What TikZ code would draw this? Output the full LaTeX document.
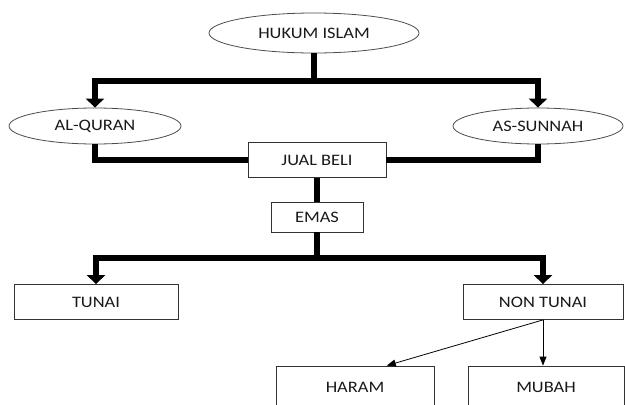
\documentclass[tikz,border=0pt]{standalone}
\usepackage{fontspec}
\setmainfont{Carlito}[FakeStretch=1.15]
\usetikzlibrary{arrows.meta,shapes.geometric,calc}

\begin{document}
\begin{tikzpicture}[x=1pt,y=-1pt,font=\fontsize{16}{18}\selectfont]
  \tikzstyle{oval}=[ellipse,draw=black!70,line width=0.8pt,inner sep=0pt,text=black!90]
  \tikzstyle{box}=[rectangle,draw=black!80,line width=0.8pt,inner sep=0pt,text=black!90]
  \tikzstyle{bigline}=[line width=6pt]
  \tikzstyle{bigarrow}=[line width=6pt,-{Triangle[width=18pt,length=9pt]}]
  \tikzstyle{smallarrow}=[line width=0.8pt,-{Triangle[width=7pt,length=9pt]}]
  \useasboundingbox (0,0) rectangle (625,405);
  \clip (0,0) rectangle (625,405);
  % sources
  \node[oval,minimum width=210pt,minimum height=40pt] (hukum) at (314,33) {HUKUM ISLAM};
  \node[oval,minimum width=172pt,minimum height=36pt] (quran) at (95,126) {AL-QURAN};
  \node[oval,minimum width=170pt,minimum height=36pt] (sunnah) at (538,126) {AS-SUNNAH};
  \node[box,minimum width=138pt,minimum height=35pt] (jual) at (317,160) {JUAL BELI};
  \node[box,minimum width=92pt,minimum height=30pt] (emas) at (317,217) {EMAS};
  % payment
  \node[box,minimum width=164pt,minimum height=35pt] (tunai) at (96,302) {TUNAI};
  \node[box,minimum width=160pt,minimum height=35pt] (nontunai) at (543,302) {NON TUNAI};
  \node[box,minimum width=158pt,minimum height=42pt] (haram) at (355,387) {HARAM};
  \node[box,minimum width=156pt,minimum height=42pt] (mubah) at (546,387) {MUBAH};
  \coordinate (top) at (hukum.south |- 0,81);
  \coordinate (mid) at (emas.south |- 0,258);
  \draw[bigarrow] (hukum.south) -- (top) -| (quran.north);
  \draw[bigarrow] (top) -| (sunnah.north);
  \draw[bigline] (quran.south) |- (jual.west);
  \draw[bigline] (sunnah.south) |- (jual.east);
  \draw[bigline] (jual.south) -- (emas.north);
  \draw[bigarrow] (emas.south) -- (mid) -| (tunai.north);
  \draw[bigarrow] (mid) -| (nontunai.north);
  \draw[smallarrow] (nontunai.south) -- ($(haram.north west)!0.7!(haram.north east)$);
  \draw[smallarrow] (nontunai.south) -- (nontunai.south |- mubah.north);
\end{tikzpicture}
\end{document}
